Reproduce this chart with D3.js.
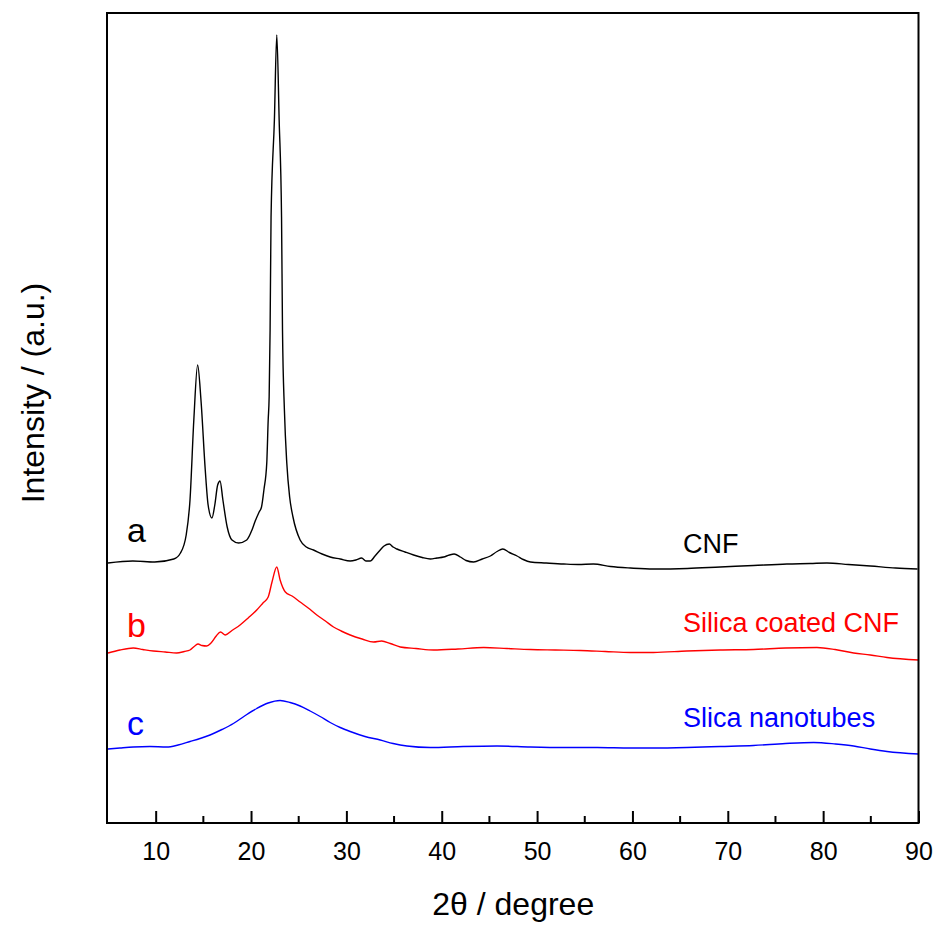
<!DOCTYPE html>
<html>
<head>
<meta charset="utf-8">
<script src="https://cdn.jsdelivr.net/npm/d3@7"></script>
<style>
  body { margin: 0; background: #fff; }
  text { font-family: Arial, "Liberation Sans", sans-serif; }
</style>
</head>
<body>
<div id="chart"></div>
<script>
// 2θ positions and intensities (a.u.)
const cnfTheta = [5.0, 7.6, 9.9, 11.9, 12.6, 13.2, 13.6, 14.0, 14.4, 14.75, 15.2, 15.5, 15.9, 16.2, 16.5, 16.75, 17.05, 17.5, 18.0, 18.7, 19.55, 20.1, 20.4, 20.85, 21.1, 21.35, 21.65, 21.8, 21.9, 22.0, 22.1, 22.45, 22.7, 22.95, 23.2, 23.3, 23.5, 23.75, 24.05, 24.4, 25.15, 25.8, 26.55, 27.45, 28.3, 29.35, 30.4, 31.0, 31.6, 32.05, 32.5, 33.0, 33.55, 33.95, 34.5, 34.9, 35.3, 36.15, 37.05, 37.95, 38.8, 39.5, 40.2, 40.8, 41.3, 41.95, 42.55, 43.35, 44.25, 45.1, 45.8, 46.4, 47.1, 47.9, 48.55, 49.3, 50.95, 52.8, 54.3, 55.9, 57.7, 59.8, 62.2, 65.75, 69.2, 72.7, 76.2, 78.65, 80.4, 82.65, 84.95, 87.6, 89.9];
const cnfInt = [2600, 2620, 2610, 2640, 2700, 2880, 3230, 4030, 4580, 4230, 3530, 3180, 3050, 3180, 3380, 3420, 3230, 2960, 2830, 2800, 2830, 2930, 3010, 3110, 3160, 3330, 3600, 4030, 4260, 4930, 6060, 7030, 7880, 7030, 6060, 4930, 4130, 3600, 3260, 3060, 2830, 2760, 2730, 2690, 2660, 2640, 2620, 2630, 2650, 2620, 2620, 2670, 2730, 2770, 2790, 2760, 2740, 2710, 2680, 2655, 2640, 2650, 2660, 2680, 2690, 2660, 2625, 2610, 2640, 2670, 2715, 2740, 2705, 2670, 2635, 2610, 2600, 2590, 2585, 2590, 2565, 2550, 2540, 2545, 2560, 2575, 2590, 2595, 2600, 2585, 2570, 2550, 2540];

const coatedTheta = [5.0, 6.25, 7.65, 8.65, 9.75, 11.0, 12.2, 13.0, 13.6, 14.1, 14.45, 14.85, 15.35, 15.8, 16.35, 16.8, 17.3, 18.0, 18.85, 19.7, 20.6, 21.25, 21.8, 22.2, 22.7, 23.05, 23.6, 24.3, 25.15, 26.0, 26.9, 27.8, 28.65, 29.45, 30.4, 31.65, 32.85, 33.7, 34.6, 35.65, 37.3, 39.15, 41.7, 44.4, 46.85, 49.3, 51.9, 54.55, 57.15, 59.8, 62.2, 65.7, 69.2, 72.7, 76.05, 79.35, 81.25, 83.2, 84.95, 86.7, 90.0];
const coatedInt = [1700, 1730, 1750, 1735, 1720, 1710, 1700, 1715, 1730, 1770, 1790, 1775, 1770, 1800, 1870, 1910, 1880, 1925, 1980, 2050, 2130, 2200, 2260, 2410, 2560, 2430, 2310, 2270, 2210, 2150, 2080, 2020, 1960, 1920, 1880, 1840, 1810, 1820, 1795, 1760, 1745, 1730, 1740, 1755, 1745, 1735, 1730, 1725, 1715, 1705, 1705, 1720, 1730, 1735, 1750, 1755, 1735, 1700, 1680, 1655, 1630];

const tubeTheta = [5.0, 6.25, 7.65, 9.4, 11.15, 12.35, 13.6, 14.65, 15.7, 16.95, 18.15, 19.4, 20.6, 21.8, 23.05, 24.1, 25.15, 26.2, 27.25, 28.3, 29.35, 30.4, 31.95, 33.55, 34.9, 36.35, 38.8, 42.25, 45.8, 49.3, 52.8, 56.3, 59.8, 62.2, 65.7, 69.2, 72.7, 76.05, 79.0, 81.3, 83.2, 84.95, 86.7, 90.0];
const tubeInt = [740, 750, 760, 765, 760, 780, 815, 845, 880, 935, 995, 1075, 1145, 1200, 1225, 1205, 1170, 1120, 1065, 1005, 955, 915, 865, 830, 795, 770, 755, 765, 770, 760, 755, 755, 750, 750, 755, 765, 775, 795, 805, 790, 770, 740, 715, 690];

const xTicks = [10, 20, 30, 40, 50, 60, 70, 80, 90];
const seriesNames = ["CNF", "Silica coated CNF", "Slica nanotubes"];
const seriesLetters = ["a", "b", "c"];
const seriesColors = ["#000000", "#ff0000", "#0000ff"];

const width = 937, height = 925;
const margin = { left: 108, right: 918.5, top: 13, bottom: 823 };

const svg = d3.select("#chart").append("svg")
    .attr("width", width)
    .attr("height", height);

const x = d3.scaleLinear().domain([5, 90]).range([margin.left, margin.right]);
const y = d3.scaleLinear().domain([0, 8100]).range([margin.bottom, margin.top]);

const line = d3.line()
    .x(d => x(d[0]))
    .y(d => y(d[1]))
    .curve(d3.curveMonotoneX);

const series = [
    d3.zip(cnfTheta, cnfInt),
    d3.zip(coatedTheta, coatedInt),
    d3.zip(tubeTheta, tubeInt)
];

// curves
series.forEach((pts, i) => {
    svg.append("path")
        .datum(pts)
        .attr("d", line)
        .attr("fill", "none")
        .attr("stroke", seriesColors[i])
        .attr("stroke-width", 1.4)
        .attr("stroke-linejoin", "round");
});

// frame
svg.append("rect")
    .attr("x", margin.left - 1)
    .attr("y", margin.top)
    .attr("width", margin.right - margin.left + 1)
    .attr("height", margin.bottom - margin.top)
    .attr("fill", "none")
    .attr("stroke", "#000")
    .attr("stroke-width", 2);

// bottom axis, ticks inside
const xAxis = d3.axisBottom(x)
    .tickValues(xTicks)
    .tickSizeInner(-12)
    .tickSizeOuter(0)
    .tickPadding(19);

const gx = svg.append("g")
    .attr("transform", `translate(0,${margin.bottom})`)
    .call(xAxis);
gx.select(".domain").remove();
gx.selectAll(".tick line").attr("stroke-width", 2);
gx.selectAll(".tick text")
    .attr("font-size", 25)
    .attr("fill", "#000");

// minor ticks
const minor = d3.range(15, 90, 10);
svg.append("g").selectAll("line")
    .data(minor)
    .enter()
    .append("line")
    .attr("x1", d => x(d))
    .attr("x2", d => x(d))
    .attr("y1", margin.bottom)
    .attr("y2", margin.bottom - 7)
    .attr("stroke", "#000")
    .attr("stroke-width", 2);

// axis titles
svg.append("text")
    .attr("x", (margin.left + margin.right) / 2)
    .attr("y", 915)
    .attr("text-anchor", "middle")
    .attr("font-size", 32)
    .text("2θ / degree");

svg.append("text")
    .attr("transform", "translate(44,393) rotate(-90)")
    .attr("text-anchor", "middle")
    .attr("font-size", 32)
    .text("Intensity / (a.u.)");

// curve labels
const letterY = [542, 637, 735];
const nameY = [553, 632, 727];
seriesLetters.forEach((s, i) => {
    svg.append("text")
        .attr("x", 127)
        .attr("y", letterY[i])
        .attr("font-size", 34)
        .attr("fill", seriesColors[i])
        .text(s);
    svg.append("text")
        .attr("x", 683)
        .attr("y", nameY[i])
        .attr("font-size", 27)
        .attr("fill", seriesColors[i])
        .text(seriesNames[i]);
});
</script>
</body>
</html>
